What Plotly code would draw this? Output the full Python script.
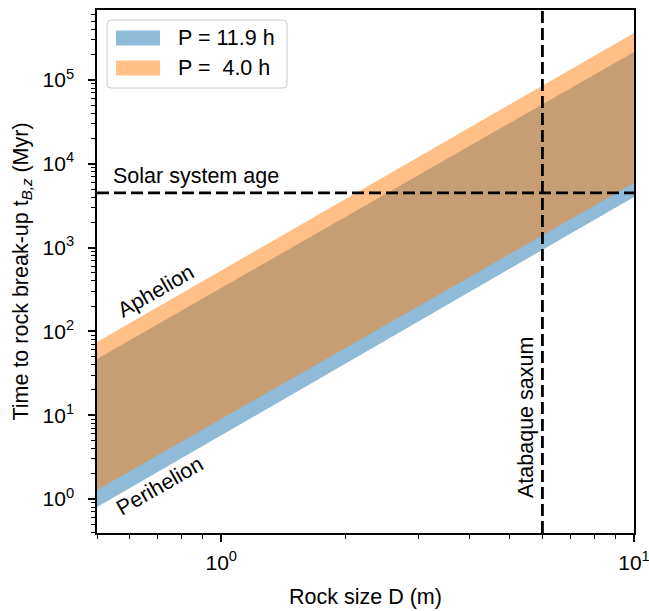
import math
import plotly.graph_objects as go

# ---- data ----
D_edges = [0.5, 10.0]                 # rock size D (m), ends of the plotted bands
blue_low = [0.80, 4.02e3]             # P = 11.9 h, perihelion (Myr)
blue_high = [46.9, 2.16e5]            # P = 11.9 h, aphelion (Myr)
orange_low = [1.28, 5.9e3]            # P = 4.0 h, perihelion (Myr)
orange_high = [74.6, 3.64e5]          # P = 4.0 h, aphelion (Myr)
series_names = ["P = 11.9 h", "P = \u00a04.0 h"]
solar_age = 4.5e3                     # Myr
atabaque_D = 6.0                      # m

x_tickvals = [1, 10]
x_ticktext = ["10<sup>0</sup>", "10<sup>1</sup>"]
y_tickvals = [1, 10, 100, 1e3, 1e4, 1e5]
y_ticktext = ["10<sup>0</sup>", "10<sup>1</sup>", "10<sup>2</sup>",
              "10<sup>3</sup>", "10<sup>4</sup>", "10<sup>5</sup>"]
x_minor = [0.5, 0.6, 0.7, 0.8, 0.9, 2, 3, 4, 5, 6, 7, 8, 9]
y_minor = [m * 10 ** e for e in range(-1, 6) for m in range(2, 10)]

x_range = [math.log10(0.5), 1.0]
y_range = [-0.406, 5.835]

BLUE = "rgba(31,119,180,0.5)"
ORANGE = "rgba(255,127,14,0.5)"
FONT = "Liberation Sans, Arial, sans-serif"
FS = 21.5
TFS = 21

W, H = 649, 611
L, R, T, B = 97, 15, 10, 78
PW, PH = W - L - R, H - T - B


def px(x):
    return (x - L) / PW


def py(y):
    return 1 - (y - T) / PH


fig = go.Figure()
for lo, hi, col, name in [(blue_low, blue_high, BLUE, series_names[0]),
                          (orange_low, orange_high, ORANGE, series_names[1])]:
    fig.add_trace(go.Scatter(x=D_edges, y=lo, mode="lines", line=dict(width=0),
                             showlegend=False, hoverinfo="skip"))
    fig.add_trace(go.Scatter(x=D_edges, y=hi, mode="lines", line=dict(width=0),
                             fill="tonexty", fillcolor=col, name=name,
                             showlegend=False))

dash = "12px,5px"
shapes = [
    dict(type="line", xref="paper", yref="y", x0=0, x1=1, y0=solar_age, y1=solar_age,
         line=dict(color="black", width=2.8, dash=dash)),
    dict(type="line", xref="x", yref="paper", x0=atabaque_D, x1=atabaque_D, y0=0, y1=1,
         line=dict(color="black", width=2.8, dash=dash)),
]

# manual legend (matplotlib-style rectangles)
lx0, lx1, ly0, ly1, r = 107, 287, 20, 88, 4
path = (f"M{px(lx0 + r)},{py(ly0)} L{px(lx1 - r)},{py(ly0)} "
        f"Q{px(lx1)},{py(ly0)} {px(lx1)},{py(ly0 + r)} "
        f"L{px(lx1)},{py(ly1 - r)} Q{px(lx1)},{py(ly1)} {px(lx1 - r)},{py(ly1)} "
        f"L{px(lx0 + r)},{py(ly1)} Q{px(lx0)},{py(ly1)} {px(lx0)},{py(ly1 - r)} "
        f"L{px(lx0)},{py(ly0 + r)} Q{px(lx0)},{py(ly0)} {px(lx0 + r)},{py(ly0)} Z")
shapes.append(dict(type="path", xref="paper", yref="paper", path=path,
                   fillcolor="rgba(255,255,255,0.8)", line=dict(color="#cccccc", width=1)))
annotations = []
for i, (name, col) in enumerate(zip(series_names, [BLUE, ORANGE])):
    cy = 38 + 30 * i
    shapes.append(dict(type="rect", xref="paper", yref="paper",
                       x0=px(116), x1=px(160), y0=py(cy - 7.5), y1=py(cy + 7.5),
                       fillcolor=col, line=dict(width=0)))
    annotations.append(dict(xref="paper", yref="paper", x=px(176), y=py(cy),
                            xanchor="left", yanchor="middle", text=name,
                            showarrow=False, font=dict(size=FS)))

annotations += [
    dict(xref="paper", yref="paper", x=px(111), y=py(176), xanchor="left", yanchor="middle",
         text="Solar system age", showarrow=False, font=dict(size=FS)),
    dict(xref="paper", yref="paper", x=px(156), y=py(291), xanchor="center", yanchor="middle",
         text="Aphelion", textangle=-29.8, showarrow=False, font=dict(size=FS)),
    dict(xref="paper", yref="paper", x=px(160), y=py(486), xanchor="center", yanchor="middle",
         text="Perihelion", textangle=-29.8, showarrow=False, font=dict(size=FS)),
    dict(xref="paper", yref="paper", x=px(526), y=py(418), xanchor="center", yanchor="middle",
         text="Atabaque saxum", textangle=-90, showarrow=False, font=dict(size=FS)),
]

axis_common = dict(type="log", showgrid=False, zeroline=False, showline=True,
                   linecolor="black", linewidth=1.5, mirror=True, ticks="outside",
                   ticklen=7, tickwidth=1.5, tickcolor="black", tickmode="array",
                   automargin=False, ticklabeloverflow="allow",
                   tickfont=dict(size=TFS, color="black"))

fig.update_layout(
    width=W, height=H, margin=dict(l=L, r=R, t=T, b=B),
    paper_bgcolor="white", plot_bgcolor="white",
    font=dict(family=FONT, size=FS, color="black"),
    shapes=shapes, annotations=annotations, showlegend=False,
    xaxis=dict(**axis_common, range=x_range, tickvals=x_tickvals, ticktext=x_ticktext,
               ticklabelstandoff=3,
               minor=dict(tickvals=x_minor, ticks="outside", ticklen=4, tickwidth=1,
                          tickcolor="black"),
               title=dict(text="Rock size D (m)", font=dict(size=FS), standoff=16)),
    yaxis=dict(**axis_common, range=y_range, tickvals=y_tickvals, ticktext=y_ticktext,
               ticklabelstandoff=10,
               minor=dict(tickvals=y_minor, ticks="outside", ticklen=4, tickwidth=1,
                          tickcolor="black"),
               title=dict(text="Time to rock break-up t<sub><i>B,z</i></sub> (Myr)",
                          font=dict(size=FS), standoff=8)),
)

fig.write_html("out.html")
